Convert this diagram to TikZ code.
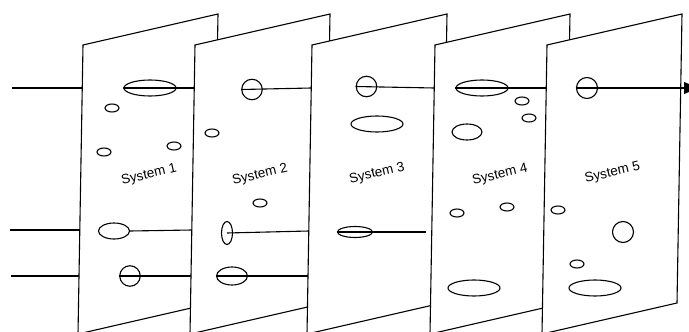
\documentclass[tikz,border=0pt]{standalone}
\usepackage{fontspec}
\setmainfont{Liberation Sans}
\usetikzlibrary{shapes.geometric,arrows.meta}
\begin{document}
\begin{tikzpicture}[x=1pt,y=-1pt,
  panel/.style={draw,fill=white,line width=1.1pt,line join=miter},
  ell/.style={ellipse,draw,fill=none,inner sep=0pt,line width=1.1pt},
  circ/.style={circle,draw,fill=none,inner sep=0pt,line width=1.1pt},
  wire/.style={line width=1.1pt},
  lbl/.style={font=\fontsize{13.5}{15}\selectfont,rotate=13,inner sep=0pt}]
\useasboundingbox (0,0) rectangle (689,332);
% free ends
\coordinate (in1) at (12,88);
\coordinate (in2) at (10,230);
\coordinate (in3) at (11,276);
\coordinate (p1a) at (82.3,88);
\coordinate (p1b) at (79.8,230);
\coordinate (p1c) at (79,276);
\draw[wire] (in1) -- (p1a);
\draw[wire] (in2) -- (p1b);
\draw[wire] (in3) -- (p1c);
% ---------- panel 1
\draw[panel] (83,45) -- (218,14) -- (213,303) -- (78,334) -- cycle;
\node[lbl] (s1) at (149,175) {System 1};
\node[ell,minimum width=52pt,minimum height=16pt] (e1a) at (150,88) {};
\node[ell,minimum width=14pt,minimum height=8pt] (e1s1) at (112,108) {};
\node[ell,minimum width=14pt,minimum height=8pt] (e1s2) at (104,152) {};
\node[ell,minimum width=14pt,minimum height=8pt] (e1s3) at (174,146) {};
\node[ell,minimum width=31pt,minimum height=16pt] (e1b) at (114,231) {};
\node[circ,minimum size=20.5pt] (c1c) at (130,276) {};
\coordinate (p2a) at (194.3,88);
\coordinate (p2b) at (191.8,230);
\coordinate (p2c) at (191,276);
\draw[wire] (e1a.west) -- (p2a);
\draw[wire] (e1b.east) -- (p2b);
\draw[wire] (c1c.west) -- (p2c);
% ---------- panel 2
\draw[panel] (195,45) -- (330,14) -- (325,303) -- (190,334) -- cycle;
\node[lbl] (s2) at (260,175) {System 2};
\node[circ,minimum size=20.5pt] (c2a) at (252,89.5) {};
\node[ell,minimum width=14pt,minimum height=8pt] (e2s1) at (212,133) {};
\node[ell,minimum width=14pt,minimum height=8pt] (e2s2) at (260,203) {};
\node[ell,minimum width=11pt,minimum height=23pt] (e2b) at (227,233) {};
\node[ell,minimum width=31pt,minimum height=18pt] (e2c) at (232,276) {};
\coordinate (p3a) at (311.3,88);
\coordinate (p3b) at (308.8,231);
\coordinate (p3c) at (308,276);
\draw[wire] (c2a.west) -- (p3a);
\draw[wire] (e2b.center) -- (p3b);
\draw[wire] (e2c.west) -- (p3c);
% ---------- panel 3
\draw[panel] (312,45) -- (447,14) -- (442,303) -- (307,334) -- cycle;
\node[lbl] (s3) at (377,173.5) {System 3};
\node[circ,minimum size=20.5pt] (c3a) at (366.5,86.5) {};
\node[ell,minimum width=52pt,minimum height=16pt] (e3s) at (377,124) {};
\node[ell,minimum width=35pt,minimum height=11pt] (e3b) at (355,232) {};
\coordinate (p4a) at (434.3,88);
\coordinate (end3) at (426,232);
\draw[wire] (c3a.west) -- (p4a);
\draw[wire] (e3b.west) -- (end3);
% ---------- panel 4
\draw[panel] (435,45) -- (570,14) -- (565,303) -- (430,334) -- cycle;
\node[lbl] (s4) at (500,175) {System 4};
\node[ell,minimum width=52pt,minimum height=16pt] (e4a) at (482,88) {};
\node[ell,minimum width=14pt,minimum height=8pt] (e4s1) at (522,101) {};
\node[ell,minimum width=14pt,minimum height=8pt] (e4s2) at (529,118) {};
\node[ell,minimum width=30pt,minimum height=16pt] (e4s3) at (467,132) {};
\node[ell,minimum width=14pt,minimum height=8pt] (e4s4) at (457,213) {};
\node[ell,minimum width=14pt,minimum height=8pt] (e4s5) at (507,207) {};
\node[ell,minimum width=52pt,minimum height=16pt] (e4s6) at (474,288) {};
\coordinate (p5a) at (546.3,88);
\draw[wire] (e4a.west) -- (p5a);
% ---------- panel 5
\draw[panel] (547,45) -- (682,14) -- (677,303) -- (542,334) -- cycle;
\node[lbl] (s5) at (612.5,173) {System 5};
\node[circ,minimum size=21pt] (c5a) at (587,88) {};
\node[ell,minimum width=14pt,minimum height=8pt] (e5s1) at (558,210) {};
\node[circ,minimum size=21pt] (c5b) at (623,232) {};
\node[ell,minimum width=14pt,minimum height=8pt] (e5s2) at (577,264) {};
\node[ell,minimum width=52pt,minimum height=16pt] (e5s3) at (595,288) {};
\coordinate (out) at (698,88);
\draw[wire,-{Triangle[length=14pt,width=12pt]}] (c5a.west) -- (out);
\end{tikzpicture}
\end{document}
